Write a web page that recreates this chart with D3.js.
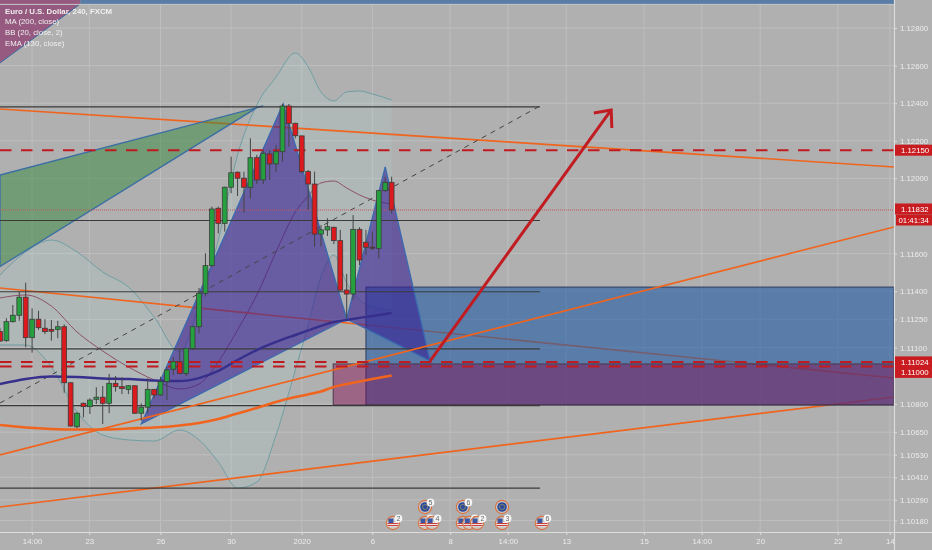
<!DOCTYPE html>
<html>
<head>
<meta charset="utf-8">
<script src="https://cdn.jsdelivr.net/npm/d3@7"></script>
<style>
  html, body { margin: 0; padding: 0; background: #b0b0b0; overflow: hidden; }
  svg { display: block; filter: blur(0.3px); }
  text { font-family: "Liberation Sans", Arial, sans-serif; }
</style>
</head>
<body>
<div id="chart"></div>
<script>
// Candles, 4h bars, bar 0 is the left edge of the picture
const opens = [1.11185,1.11137,1.11238,1.11272,1.11368,1.11153,1.11251,1.11203,1.11197,1.11197,1.11211,1.10913,1.10679,1.10804,1.10786,1.10825,1.10836,1.10804,1.10910,1.10892,1.10878,1.10897,1.10751,1.10783,1.10878,1.10848,1.10919,1.10985,1.11025,1.10963,1.11096,1.11211,1.11389,1.11536,1.11841,1.11761,1.11953,1.12033,1.12001,1.11953,1.12110,1.11992,1.12130,1.12077,1.12142,1.12385,1.12293,1.12226,1.12036,1.11970,1.11704,1.11726,1.11740,1.11669,1.11406,1.11385,1.11729,1.11660,1.11634,1.11628,1.11935,1.11979];
const highs = [1.11203,1.11256,1.11327,1.11397,1.11445,1.11309,1.11296,1.11251,1.11247,1.11242,1.11224,1.10915,1.10755,1.10807,1.10830,1.10889,1.10896,1.10960,1.10949,1.10942,1.10901,1.10901,1.10804,1.10937,1.10880,1.10945,1.10999,1.11049,1.11096,1.11098,1.11213,1.11417,1.11602,1.11850,1.11850,1.11956,1.12116,1.12036,1.12036,1.12213,1.12125,1.12151,1.12151,1.12178,1.12396,1.12396,1.12296,1.12228,1.12045,1.12036,1.11752,1.11788,1.11743,1.11726,1.11492,1.11805,1.11740,1.11726,1.11717,1.11938,1.12008,1.12009];
const lows = [1.11130,1.11131,1.11233,1.11243,1.11102,1.11073,1.11194,1.11172,1.11137,1.11150,1.10860,1.10679,1.10671,1.10729,1.10747,1.10800,1.10694,1.10751,1.10866,1.10853,1.10853,1.10747,1.10711,1.10751,1.10830,1.10843,1.10821,1.10954,1.10960,1.10949,1.11087,1.11176,1.11371,1.11529,1.11708,1.11717,1.11921,1.11906,1.11818,1.11894,1.11970,1.11970,1.11992,1.12036,1.12089,1.12169,1.12213,1.12027,1.11832,1.11637,1.11637,1.11694,1.11651,1.11397,1.11256,1.11353,1.11539,1.11593,1.11619,1.11575,1.11929,1.11814];
const closes = [1.11135,1.11238,1.11272,1.11368,1.11153,1.11251,1.11206,1.11185,1.11187,1.11211,1.10913,1.10683,1.10751,1.10786,1.10821,1.10836,1.10804,1.10910,1.10892,1.10882,1.10897,1.10751,1.10783,1.10878,1.10848,1.10919,1.10981,1.11025,1.10963,1.11096,1.11211,1.11389,1.11536,1.11837,1.11761,1.11953,1.12030,1.12001,1.11953,1.12110,1.11992,1.12134,1.12077,1.12142,1.12385,1.12293,1.12227,1.12036,1.11970,1.11704,1.11726,1.11743,1.11669,1.11406,1.11385,1.11729,1.11566,1.11634,1.11630,1.11935,1.11979,1.11832];

// Indicators, read at these bars
const indicatorBars = [0,4,8,12,16,20,24,28,31,34,37,40,43,46,48,50,52,54,56,58,61];
const bbUpper = [1.11486,1.11609,1.11672,1.11609,1.11502,1.11422,1.11263,1.11077,1.11327,1.11672,1.12125,1.12391,1.12539,1.12667,1.12593,1.12460,1.12412,1.12460,1.12465,1.12449,1.12417];
const bbLower = [1.11114,1.11114,1.10997,1.10758,1.10635,1.10609,1.10603,1.10662,1.10609,1.10492,1.10353,1.10385,1.10635,1.10981,1.11220,1.11476,1.11593,1.11444,1.11353,1.11316,1.11300];
const bbBasis = [1.11364,1.11380,1.11321,1.11183,1.11082,1.10997,1.10928,1.10880,1.10906,1.11024,1.11194,1.11380,1.11609,1.11821,1.11906,1.11976,1.11986,1.11949,1.11912,1.11885,1.11864];
const ma200 = [1.10906,1.10933,1.10946,1.10944,1.10936,1.10933,1.10925,1.10922,1.10938,1.10976,1.11034,1.11087,1.11130,1.11167,1.11191,1.11215,1.11236,1.11247,1.11258,1.11268,1.11284];
const ema130 = [1.10688,1.10675,1.10667,1.10664,1.10664,1.10670,1.10675,1.10686,1.10699,1.10720,1.10750,1.10779,1.10811,1.10837,1.10851,1.10867,1.10891,1.10906,1.10920,1.10933,1.10951];

// Axis ticks
const priceTicks = [1.128,1.126,1.124,1.122,1.12,1.116,1.114,1.1125,1.111,1.108,1.1065,1.1053,1.1041,1.1029,1.1018];
const timeBars = [5,13.9,25,36,47,58,70.1,79.1,88.2,100.3,109.3,118.4,130.5,138.6];
const timeLabels = ["14:00","23","26","30","2020","6","8","14:00","13","15","14:00","20","22","14"];

// Drawings as [bar, price]
const lastBar = 139.25;
const orangeUnder = [
  [[0,1.12369],[lastBar,1.12061]],
  [[0,1.11417],[lastBar,1.10938]],
  [[0,1.10252],[lastBar,1.10837]],
];
const orangeOver = [[0,1.10529],[lastBar,1.11742]];
const blackLevels = [1.12380,1.11776,1.11397,1.11093,1.10791,1.10352];
const blackEnd = 84.1;
const dashedLevels = [1.1215,1.11024,1.11];
const lastPrice = 1.11832;
const diagonal = [[0,1.10805],[84.1,1.12385]];
const arrowLine = [[67,1.11029],[95.2,1.12364]];
const arrowHead = [[92.5,1.12348],[95.2,1.12364],[95.3,1.12268]];
const greenWedge = [[0,1.12018],[41,1.12385],[40.2,1.12380],[0,1.11531]];
const cornerWedge = [[0,1.12614],[12.5,1.12928],[0,1.12928]];
const patternLeft = [[22,1.10694],[44.1,1.12396],[54,1.11252]];
const patternRight = [[54,1.11252],[60,1.12061],[67,1.11029]];
const blueBox = { x0: 57, x1: lastBar, top: 1.11422, bottom: 1.10795 };
const pinkBox = { x0: 51.9, x1: lastBar, top: 1.11013, bottom: 1.10795 };

// Price tags on the right
const tagPrices = [1.1215,1.11832,1.11024,1.11];
const tagNudge = [0,-1,0,6];
const countdown = "01:41:34";

// Legend
const legendRows = ["Euro / U.S. Dollar, 240, FXCM","MA (200, close)","BB (20, close, 2)","EMA (130, close)"];

// Economic event badges
const usEvents = [[61.2,"2"],[66.2,"2"],[67.3,"4"],[72.1,""],[73.1,"3"],[74.3,"2"],[78.2,"3"],[84.4,"6"]];
const euEvents = [[66.2,"5"],[72.1,"6"],[78.2,""]];

const width = 932, height = 550, plotW = 894, plotH = 532;

const x = d3.scaleLinear().domain([0, lastBar]).range([0, plotW]);
const y = d3.scaleLinear().domain([1.128, 1.108]).range([28, 404]);

const svg = d3.select("#chart").append("svg").attr("width", width).attr("height", height);
svg.append("rect").attr("width", width).attr("height", height).attr("fill", "#b0b0b0");
svg.append("defs").append("clipPath").attr("id", "plot")
  .append("rect").attr("width", plotW).attr("height", plotH);

const plot = svg.append("g").attr("clip-path", "url(#plot)");
const toPath = d3.line().x(d => x(d[0])).y(d => y(d[1]));
const closed = pts => toPath(pts) + "Z";
const series = vals => indicatorBars.map((b, i) => [b, vals[i]]);
const curved = d3.line().x(d => x(d[0])).y(d => y(d[1])).curve(d3.curveMonotoneX);

// Grid
plot.selectAll(".gv").data(timeBars).enter().append("line")
  .attr("x1", d => x(d)).attr("x2", d => x(d)).attr("y1", 0).attr("y2", plotH)
  .attr("stroke", "#bebebe").attr("stroke-width", 1);
plot.selectAll(".gh").data(priceTicks).enter().append("line")
  .attr("x1", 0).attr("x2", plotW).attr("y1", d => y(d)).attr("y2", d => y(d))
  .attr("stroke", "#bebebe").attr("stroke-width", 1);

// Bollinger fill and lines
const bbArea = d3.area().x((d, i) => x(indicatorBars[i])).y0((d, i) => y(bbLower[i])).y1(d => y(d))
  .curve(d3.curveMonotoneX);
plot.append("path").attr("d", bbArea(bbUpper)).attr("fill", "rgba(170,215,215,0.18)");
[bbUpper, bbLower].forEach(vals => {
  plot.append("path").attr("d", curved(series(vals))).attr("fill", "none")
    .attr("stroke", "#6f9fa3").attr("stroke-width", 1);
});
plot.append("path").attr("d", curved(series(bbBasis))).attr("fill", "none")
  .attr("stroke", "#8d5168").attr("stroke-width", 1);

// Orange lines that sit under the boxes
orangeUnder.forEach(l => {
  plot.append("path").attr("d", toPath(l)).attr("fill", "none")
    .attr("stroke", "#f0641e").attr("stroke-width", 1.6);
});

// Boxes
const drawBox = (b, fill, stroke) => {
  plot.append("rect").attr("x", x(b.x0)).attr("y", y(b.top))
    .attr("width", x(b.x1) - x(b.x0)).attr("height", y(b.bottom) - y(b.top))
    .attr("fill", fill).attr("stroke", stroke).attr("stroke-width", 1);
};
drawBox(blueBox, "rgba(32,90,165,0.6)", "#2d3b5e");
drawBox(pinkBox, "rgba(132,12,82,0.45)", "#4a3a4a");

// Strip along the top edge
plot.append("rect").attr("x", x(12.5)).attr("y", 0).attr("width", plotW - x(12.5)).attr("height", y(1.12928))
  .attr("fill", "#5a7da8");
plot.append("rect").attr("x", 0).attr("y", 0).attr("width", x(12.5)).attr("height", y(1.12928))
  .attr("fill", "#96597f");
plot.append("path").attr("d", closed(cornerWedge)).attr("fill", "#96597f");
plot.append("path").attr("d", toPath(cornerWedge.slice(0, 2))).attr("stroke", "#3a6ea5").attr("stroke-width", 1).attr("fill", "none");
plot.append("line").attr("x1", 0).attr("x2", plotW).attr("y1", y(1.12928) + 0.5).attr("y2", y(1.12928) + 0.5)
  .attr("stroke", "#c4c4c4");

// Harmonic patterns
plot.append("path").attr("d", closed(greenWedge))
  .attr("fill", "rgba(50,135,60,0.5)").attr("stroke", "#3a6ea5").attr("stroke-width", 1.3);
[patternLeft, patternRight].forEach(p => {
  plot.append("path").attr("d", closed(p))
    .attr("fill", "rgba(57,32,148,0.6)").attr("stroke", "#3a6ab0").attr("stroke-width", 1.3);
});

// Black levels and the dashed diagonal
plot.selectAll(".level").data(blackLevels).enter().append("line")
  .attr("x1", 0).attr("x2", x(blackEnd)).attr("y1", d => y(d)).attr("y2", d => y(d))
  .attr("stroke", "#3a3a3a").attr("stroke-width", 1.2);
plot.append("path").attr("d", toPath(diagonal)).attr("fill", "none")
  .attr("stroke", "#444").attr("stroke-width", 1).attr("stroke-dasharray", "5,5");

// Moving averages
plot.append("path").attr("d", curved(series(ma200))).attr("fill", "none")
  .attr("stroke", "#36308c").attr("stroke-width", 2.4);
plot.append("path").attr("d", curved(series(ema130))).attr("fill", "none")
  .attr("stroke", "#f0641e").attr("stroke-width", 2.6);

plot.append("path").attr("d", toPath(orangeOver)).attr("fill", "none")
  .attr("stroke", "#f0641e").attr("stroke-width", 1.6);

// Support and resistance
plot.selectAll(".dash").data(dashedLevels).enter().append("line")
  .attr("x1", 0).attr("x2", plotW).attr("y1", d => y(d)).attr("y2", d => y(d))
  .attr("stroke", "#bf1a20").attr("stroke-width", 2).attr("stroke-dasharray", "11.5,9.5");
plot.append("line").attr("x1", 0).attr("x2", plotW).attr("y1", y(lastPrice)).attr("y2", y(lastPrice))
  .attr("stroke", "#c2565c").attr("stroke-width", 1).attr("stroke-dasharray", "1,1");

// Candles
const candles = opens.map((o, i) => ({ i, o, h: highs[i], l: lows[i], c: closes[i] }));
const candle = plot.selectAll(".candle").data(candles).enter().append("g");
candle.append("line")
  .attr("x1", d => x(d.i)).attr("x2", d => x(d.i))
  .attr("y1", d => y(d.h)).attr("y2", d => y(d.l))
  .attr("stroke", "#444").attr("stroke-width", 1);
candle.append("rect")
  .attr("x", d => x(d.i) - 2.4).attr("width", 4.8)
  .attr("y", d => y(Math.max(d.o, d.c)))
  .attr("height", d => Math.max(1, Math.abs(y(d.o) - y(d.c))))
  .attr("fill", d => d.c >= d.o ? "#25a03f" : "#dc1a1e")
  .attr("stroke", "#3c3c3c").attr("stroke-width", 0.8);

// Arrow
[arrowLine, arrowHead].forEach(a => {
  plot.append("path").attr("d", toPath(a)).attr("fill", "none")
    .attr("stroke", "#c01c22").attr("stroke-width", 3);
});

// Axes
const axisColor = "#dcdcdc";
const yAxis = d3.axisRight(y).tickValues(priceTicks).tickSize(3).tickPadding(3).tickFormat(d3.format(".5f"));
const gy = svg.append("g").attr("transform", `translate(${plotW},0)`).call(yAxis);
const xAxis = d3.axisBottom(x).tickValues(timeBars).tickSize(3).tickPadding(3).tickFormat((d, i) => timeLabels[i]);
const gx = svg.append("g").attr("transform", `translate(0,${plotH})`).call(xAxis);
[gy, gx].forEach(g => {
  g.select(".domain").remove();
  g.selectAll("line").attr("stroke", axisColor);
  g.selectAll("text").attr("fill", "#ececec").attr("font-size", 7.8).attr("font-family", '"Liberation Sans", Arial, sans-serif');
});
svg.append("line").attr("x1", plotW + 0.5).attr("x2", plotW + 0.5).attr("y1", 0).attr("y2", height)
  .attr("stroke", axisColor).attr("stroke-width", 1.2);
svg.append("line").attr("x1", 0).attr("x2", width).attr("y1", plotH + 0.5).attr("y2", plotH + 0.5)
  .attr("stroke", axisColor).attr("stroke-width", 1.2);

// Price tags
const tags = svg.selectAll(".tag").data(tagPrices).enter().append("g")
  .attr("transform", (d, i) => `translate(${plotW + 1},${y(d) + tagNudge[i]})`);
tags.append("rect").attr("x", 0).attr("y", -5.5).attr("width", width - plotW).attr("height", 11).attr("fill", "#c91c20");
tags.append("text").attr("x", 6).attr("dy", "0.36em").attr("fill", "#fff").attr("font-size", 7.8)
  .text(d => d3.format(".5f")(d));
const clock = svg.append("g").attr("transform", `translate(${plotW + 2},${y(lastPrice) + 10})`);
clock.append("rect").attr("y", -5.5).attr("width", 36).attr("height", 11).attr("fill", "#c91c20");
clock.append("text").attr("x", 2.5).attr("dy", "0.36em").attr("fill", "#fff").attr("font-size", 7.8).text(countdown);

// Legend
svg.selectAll(".legend").data(legendRows).enter().append("text")
  .attr("x", 5).attr("y", (d, i) => 13.5 + i * 10.7)
  .attr("fill", "#f0f0f0").attr("font-size", 7.8)
  .attr("font-weight", (d, i) => i === 0 ? "bold" : "normal")
  .text(d => d);

// Event markers
const drawEvent = (ev, rowY, kind) => {
  const g = svg.append("g").attr("transform", `translate(${x(ev[0])},${rowY})`);
  g.append("circle").attr("r", 6.6).attr("fill", "#c9c9c9").attr("stroke", "#d9723f").attr("stroke-width", 1.1);
  if (kind === "us") {
    g.append("rect").attr("x", -5.5).attr("y", -1).attr("width", 11).attr("height", 4.5).attr("fill", "#f2e4e0");
    g.append("rect").attr("x", -5.5).attr("y", 0).attr("width", 11).attr("height", 1).attr("fill", "#c8413c");
    g.append("rect").attr("x", -5.5).attr("y", 2).attr("width", 11).attr("height", 1).attr("fill", "#c8413c");
    g.append("rect").attr("x", -4.5).attr("y", -4.5).attr("width", 5).attr("height", 4.5).attr("fill", "#3c56a0");
  } else {
    g.append("circle").attr("r", 4.8).attr("fill", "#2f4a9c");
    g.append("circle").attr("r", 2.6).attr("fill", "none").attr("stroke", "#8d8f5e").attr("stroke-width", 0.8);
  }
  if (ev[1] !== "") {
    g.append("circle").attr("cx", 5.5).attr("cy", -4.5).attr("r", 3.9).attr("fill", "#f4f4f4");
    g.append("text").attr("x", 5.5).attr("y", -4.5).attr("dy", "0.36em").attr("text-anchor", "middle")
      .attr("fill", "#666").attr("font-size", 7).text(ev[1]);
  }
};
usEvents.forEach(ev => drawEvent(ev, 523, "us"));
euEvents.forEach(ev => drawEvent(ev, 507, "eu"));
</script>
</body>
</html>
